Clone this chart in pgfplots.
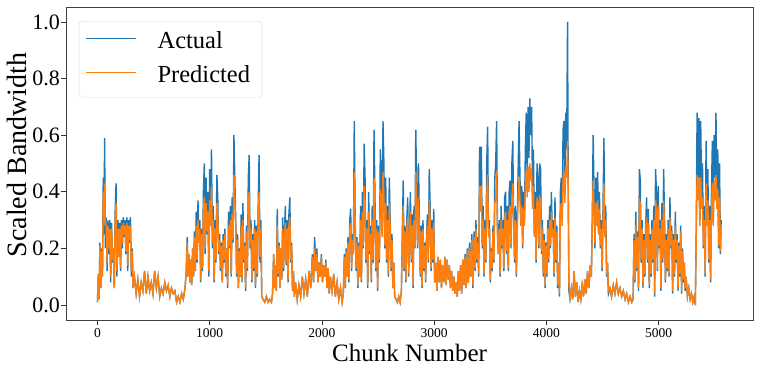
\documentclass[border=0pt]{standalone}
\usepackage{fontspec}
\setmainfont{Liberation Serif}
\usepackage{pgfplots}
\usepackage{pgfplotstable}
\pgfplotsset{compat=1.18}
\definecolor{mplblue}{HTML}{1F77B4}
\definecolor{mplorange}{HTML}{FF7F0E}
\pgfplotstableread{
x a p
0 0.01 0.01
8 0.11 0.11
15 0.02 0.02
22 0.22 0.21
30 0.06 0.06
38 0.20 0.19
45 0.10 0.10
52 0.45 0.40
58 0.25 0.28
64 0.59 0.43
70 0.20 0.30
78 0.31 0.28
86 0.12 0.15
94 0.30 0.28
102 0.18 0.20
110 0.30 0.27
118 0.08 0.10
126 0.29 0.27
134 0.15 0.16
142 0.20 0.20
150 0.06 0.06
158 0.33 0.30
166 0.43 0.36
174 0.10 0.12
182 0.30 0.27
190 0.17 0.17
198 0.29 0.27
206 0.12 0.13
214 0.30 0.28
222 0.20 0.22
230 0.31 0.29
238 0.24 0.25
246 0.30 0.28
254 0.18 0.19
262 0.31 0.29
270 0.12 0.14
278 0.30 0.28
286 0.22 0.23
294 0.31 0.28
302 0.10 0.12
310 0.20 0.19
318 0.06 0.06
330 0.10 0.10
345 0.04 0.04
360 0.09 0.09
375 0.03 0.03
390 0.08 0.08
405 0.05 0.05
420 0.12 0.12
435 0.04 0.04
450 0.10 0.10
465 0.05 0.05
480 0.08 0.08
495 0.04 0.04
510 0.12 0.12
525 0.06 0.06
540 0.10 0.10
555 0.03 0.03
570 0.06 0.06
585 0.04 0.04
600 0.08 0.08
615 0.05 0.05
630 0.07 0.07
645 0.03 0.03
660 0.06 0.06
675 0.04 0.04
690 0.05 0.05
705 0.01 0.01
720 0.03 0.03
735 0.01 0.01
750 0.04 0.04
765 0.02 0.02
780 0.06 0.06
790 0.11 0.11
800 0.24 0.22
808 0.10 0.10
816 0.18 0.18
824 0.08 0.08
832 0.16 0.16
840 0.07 0.07
848 0.20 0.20
856 0.10 0.10
864 0.26 0.24
872 0.12 0.12
880 0.33 0.28
888 0.15 0.16
896 0.37 0.30
904 0.22 0.22
912 0.30 0.27
920 0.08 0.09
928 0.27 0.25
936 0.12 0.13
944 0.40 0.33
952 0.50 0.38
960 0.18 0.20
968 0.45 0.36
976 0.25 0.26
984 0.40 0.33
992 0.10 0.12
1000 0.48 0.37
1008 0.30 0.28
1016 0.55 0.42
1024 0.20 0.22
1032 0.35 0.30
1040 0.08 0.09
1048 0.30 0.27
1056 0.15 0.16
1064 0.46 0.36
1072 0.38 0.32
1080 0.18 0.19
1088 0.25 0.23
1096 0.12 0.13
1104 0.22 0.21
1112 0.08 0.08
1120 0.25 0.23
1128 0.15 0.16
1136 0.27 0.25
1144 0.10 0.11
1152 0.20 0.20
1160 0.06 0.07
1168 0.33 0.28
1176 0.20 0.21
1184 0.35 0.30
1192 0.10 0.11
1200 0.38 0.32
1208 0.22 0.23
1216 0.60 0.46
1224 0.45 0.38
1232 0.30 0.28
1240 0.10 0.11
1248 0.25 0.23
1256 0.06 0.06
1264 0.20 0.19
1272 0.10 0.10
1280 0.32 0.28
1288 0.08 0.09
1296 0.36 0.30
1304 0.15 0.16
1312 0.22 0.21
1320 0.05 0.06
1328 0.28 0.26
1336 0.12 0.13
1344 0.45 0.36
1352 0.53 0.40
1360 0.20 0.22
1368 0.30 0.27
1376 0.08 0.09
1384 0.25 0.23
1392 0.12 0.13
1400 0.30 0.27
1408 0.06 0.07
1416 0.28 0.26
1424 0.10 0.11
1432 0.35 0.30
1440 0.53 0.40
1448 0.15 0.17
1456 0.30 0.27
1464 0.03 0.03
1475 0.02 0.02
1490 0.01 0.01
1505 0.03 0.03
1520 0.01 0.01
1535 0.02 0.02
1550 0.01 0.01
1560 0.04 0.04
1570 0.18 0.18
1578 0.06 0.06
1586 0.14 0.14
1594 0.05 0.05
1602 0.34 0.28
1610 0.10 0.11
1618 0.22 0.21
1626 0.06 0.06
1634 0.20 0.20
1642 0.09 0.09
1650 0.31 0.27
1658 0.12 0.13
1666 0.26 0.24
1674 0.35 0.29
1682 0.14 0.15
1690 0.30 0.27
1698 0.08 0.09
1706 0.32 0.28
1714 0.38 0.31
1722 0.15 0.16
1730 0.22 0.21
1738 0.05 0.05
1746 0.12 0.12
1754 0.03 0.03
1765 0.08 0.08
1780 0.02 0.02
1795 0.07 0.07
1810 0.03 0.03
1825 0.10 0.10
1840 0.04 0.04
1855 0.09 0.09
1870 0.03 0.03
1885 0.12 0.12
1900 0.06 0.06
1915 0.18 0.17
1925 0.08 0.08
1935 0.24 0.20
1945 0.12 0.12
1955 0.20 0.18
1965 0.08 0.08
1975 0.15 0.15
1985 0.10 0.10
1995 0.18 0.17
2005 0.08 0.08
2015 0.14 0.14
2025 0.10 0.10
2035 0.16 0.15
2045 0.06 0.06
2055 0.13 0.13
2065 0.04 0.04
2075 0.10 0.10
2090 0.05 0.05
2105 0.11 0.11
2120 0.03 0.03
2135 0.08 0.08
2150 0.02 0.02
2165 0.06 0.06
2180 0.01 0.01
2190 0.04 0.04
2200 0.18 0.17
2208 0.06 0.06
2216 0.20 0.19
2224 0.10 0.10
2232 0.24 0.22
2240 0.08 0.09
2248 0.30 0.27
2256 0.34 0.29
2264 0.12 0.13
2272 0.25 0.23
2280 0.18 0.18
2288 0.65 0.47
2296 0.30 0.29
2304 0.12 0.13
2312 0.24 0.22
2320 0.06 0.07
2328 0.22 0.21
2336 0.10 0.10
2344 0.35 0.30
2352 0.08 0.09
2360 0.40 0.33
2368 0.20 0.21
2376 0.57 0.42
2384 0.45 0.37
2392 0.15 0.16
2400 0.30 0.27
2408 0.06 0.07
2416 0.40 0.33
2424 0.18 0.19
2432 0.28 0.25
2440 0.08 0.09
2448 0.35 0.30
2456 0.15 0.16
2464 0.62 0.45
2472 0.40 0.33
2480 0.12 0.13
2488 0.30 0.27
2496 0.05 0.06
2504 0.28 0.26
2512 0.15 0.16
2520 0.55 0.41
2528 0.48 0.38
2536 0.25 0.24
2544 0.65 0.47
2552 0.50 0.38
2560 0.20 0.21
2568 0.45 0.36
2576 0.15 0.16
2584 0.35 0.30
2592 0.10 0.11
2600 0.45 0.36
2608 0.30 0.27
2616 0.12 0.13
2624 0.25 0.23
2632 0.06 0.06
2640 0.15 0.15
2648 0.03 0.03
2660 0.02 0.02
2672 0.01 0.01
2684 0.03 0.03
2696 0.01 0.01
2708 0.05 0.05
2716 0.25 0.23
2724 0.44 0.35
2732 0.12 0.13
2740 0.28 0.26
2748 0.08 0.09
2756 0.30 0.27
2764 0.38 0.31
2772 0.10 0.11
2780 0.25 0.23
2788 0.40 0.33
2796 0.15 0.16
2804 0.32 0.28
2812 0.06 0.07
2820 0.35 0.30
2828 0.20 0.21
2836 0.62 0.47
2844 0.40 0.33
2852 0.20 0.21
2860 0.50 0.38
2868 0.30 0.27
2876 0.10 0.11
2884 0.28 0.26
2892 0.06 0.07
2900 0.30 0.27
2908 0.12 0.13
2916 0.22 0.21
2924 0.08 0.09
2932 0.25 0.23
2940 0.32 0.28
2948 0.15 0.16
2956 0.48 0.37
2964 0.35 0.30
2972 0.12 0.13
2980 0.30 0.27
2988 0.15 0.16
2996 0.34 0.29
3004 0.08 0.08
3015 0.15 0.15
3025 0.05 0.05
3035 0.17 0.17
3045 0.08 0.08
3055 0.16 0.16
3065 0.06 0.06
3075 0.14 0.14
3085 0.08 0.08
3095 0.17 0.17
3105 0.07 0.07
3115 0.16 0.16
3125 0.09 0.09
3135 0.14 0.14
3145 0.06 0.06
3155 0.12 0.12
3165 0.05 0.05
3175 0.10 0.10
3185 0.04 0.04
3195 0.08 0.08
3205 0.03 0.03
3215 0.12 0.12
3225 0.05 0.05
3235 0.14 0.14
3245 0.04 0.04
3255 0.16 0.16
3265 0.07 0.07
3275 0.18 0.17
3285 0.06 0.06
3295 0.20 0.19
3305 0.08 0.08
3315 0.22 0.20
3325 0.10 0.10
3335 0.25 0.23
3345 0.06 0.07
3355 0.26 0.24
3364 0.12 0.13
3372 0.30 0.27
3380 0.15 0.16
3388 0.24 0.22
3396 0.10 0.11
3404 0.56 0.42
3412 0.40 0.33
3420 0.56 0.42
3428 0.20 0.21
3436 0.35 0.30
3444 0.10 0.11
3452 0.30 0.27
3460 0.15 0.16
3468 0.50 0.38
3476 0.63 0.46
3484 0.25 0.24
3492 0.30 0.27
3500 0.08 0.09
3508 0.20 0.19
3516 0.12 0.13
3524 0.28 0.26
3532 0.15 0.16
3540 0.45 0.36
3548 0.50 0.38
3556 0.65 0.47
3564 0.25 0.24
3572 0.18 0.18
3580 0.30 0.27
3588 0.10 0.11
3596 0.35 0.30
3604 0.20 0.21
3612 0.30 0.27
3620 0.12 0.13
3628 0.38 0.31
3636 0.40 0.33
3644 0.18 0.19
3652 0.35 0.30
3660 0.12 0.13
3668 0.40 0.33
3676 0.44 0.35
3684 0.20 0.21
3692 0.50 0.38
3700 0.58 0.43
3708 0.30 0.28
3716 0.15 0.16
3724 0.35 0.30
3732 0.10 0.11
3740 0.30 0.27
3748 0.48 0.38
3756 0.65 0.45
3764 0.45 0.37
3772 0.30 0.28
3780 0.42 0.35
3788 0.20 0.21
3796 0.40 0.34
3804 0.30 0.28
3812 0.55 0.42
3820 0.68 0.48
3828 0.45 0.38
3836 0.70 0.49
3844 0.52 0.40
3852 0.73 0.50
3860 0.60 0.44
3868 0.70 0.48
3876 0.40 0.34
3884 0.55 0.42
3892 0.25 0.24
3900 0.40 0.34
3908 0.15 0.16
3916 0.50 0.38
3924 0.45 0.36
3932 0.20 0.21
3940 0.50 0.38
3948 0.48 0.37
3956 0.18 0.19
3964 0.30 0.27
3972 0.10 0.11
3980 0.25 0.23
3988 0.06 0.07
3996 0.22 0.21
4004 0.10 0.11
4012 0.30 0.27
4020 0.15 0.16
4028 0.35 0.30
4036 0.20 0.21
4044 0.40 0.33
4052 0.25 0.24
4060 0.30 0.27
4068 0.10 0.11
4076 0.38 0.31
4084 0.15 0.16
4092 0.28 0.26
4100 0.06 0.07
4108 0.15 0.15
4116 0.03 0.04
4124 0.40 0.33
4132 0.45 0.36
4140 0.30 0.28
4148 0.62 0.45
4156 0.65 0.47
4164 0.40 0.36
4172 0.68 0.49
4180 0.55 0.45
4188 1.00 0.58
4194 0.40 0.40
4200 0.05 0.08
4210 0.02 0.02
4222 0.06 0.06
4234 0.02 0.02
4246 0.12 0.12
4258 0.03 0.03
4270 0.08 0.08
4282 0.01 0.01
4294 0.05 0.05
4306 0.02 0.02
4318 0.07 0.07
4330 0.03 0.03
4342 0.09 0.09
4354 0.04 0.04
4366 0.12 0.12
4378 0.06 0.06
4390 0.14 0.14
4400 0.10 0.10
4408 0.30 0.27
4416 0.60 0.44
4424 0.40 0.34
4432 0.20 0.22
4440 0.45 0.36
4448 0.30 0.28
4456 0.47 0.37
4464 0.25 0.25
4472 0.40 0.34
4480 0.20 0.21
4488 0.30 0.27
4496 0.12 0.13
4504 0.35 0.30
4512 0.59 0.43
4520 0.25 0.24
4528 0.35 0.30
4536 0.10 0.11
4544 0.15 0.15
4552 0.04 0.05
4565 0.06 0.06
4580 0.03 0.03
4595 0.07 0.07
4610 0.04 0.04
4625 0.08 0.08
4640 0.04 0.04
4655 0.06 0.06
4670 0.03 0.03
4685 0.05 0.05
4700 0.02 0.02
4715 0.04 0.04
4730 0.01 0.01
4745 0.03 0.03
4760 0.01 0.01
4772 0.02 0.02
4780 0.25 0.23
4788 0.08 0.09
4796 0.33 0.28
4804 0.12 0.13
4812 0.26 0.24
4820 0.05 0.06
4828 0.48 0.37
4836 0.44 0.36
4844 0.15 0.16
4852 0.30 0.27
4860 0.06 0.07
4868 0.25 0.23
4876 0.10 0.11
4884 0.28 0.26
4892 0.38 0.31
4900 0.15 0.16
4908 0.34 0.29
4916 0.06 0.07
4924 0.25 0.23
4932 0.10 0.11
4940 0.30 0.27
4948 0.15 0.16
4956 0.35 0.30
4964 0.03 0.04
4972 0.48 0.37
4980 0.40 0.33
4988 0.12 0.13
4996 0.42 0.35
5004 0.20 0.21
5012 0.30 0.27
5020 0.05 0.06
5028 0.36 0.30
5036 0.15 0.16
5044 0.48 0.37
5052 0.30 0.27
5060 0.08 0.09
5068 0.25 0.23
5076 0.12 0.13
5084 0.30 0.27
5092 0.10 0.11
5100 0.38 0.31
5108 0.20 0.21
5116 0.28 0.26
5124 0.04 0.05
5132 0.25 0.23
5140 0.10 0.11
5148 0.33 0.28
5156 0.15 0.16
5164 0.25 0.23
5172 0.05 0.06
5180 0.22 0.21
5188 0.10 0.11
5196 0.28 0.26
5204 0.04 0.05
5212 0.20 0.19
5220 0.08 0.09
5228 0.15 0.15
5236 0.05 0.06
5244 0.10 0.10
5256 0.03 0.03
5268 0.06 0.06
5280 0.02 0.02
5292 0.04 0.04
5304 0.01 0.01
5316 0.03 0.03
5326 0.00 0.00
5334 0.25 0.23
5342 0.68 0.46
5350 0.45 0.37
5358 0.66 0.45
5366 0.30 0.28
5374 0.65 0.45
5382 0.40 0.34
5390 0.50 0.38
5398 0.20 0.21
5406 0.35 0.30
5414 0.10 0.11
5422 0.58 0.43
5430 0.30 0.28
5438 0.48 0.37
5446 0.15 0.16
5454 0.35 0.30
5462 0.08 0.09
5470 0.40 0.33
5478 0.58 0.43
5486 0.30 0.28
5494 0.60 0.44
5502 0.45 0.37
5510 0.68 0.46
5518 0.40 0.34
5526 0.55 0.41
5534 0.20 0.21
5542 0.50 0.38
5550 0.18 0.19
5556 0.30 0.27
}\datatable
\begin{document}
\begin{tikzpicture}
\useasboundingbox (-66bp,-47bp) rectangle (694bp,320bp);
\begin{axis}[
  at={(0,0)}, anchor=south west,
  scale only axis, width=687bp, height=313bp,
  xmin=-280, xmax=5840, ymin=-0.053, ymax=1.053,
  xtick={0,1000,2000,3000,4000,5000},
  ytick={0,0.2,0.4,0.6,0.8,1},
  xtick pos=bottom, ytick pos=left,
  tick align=outside, major tick length=5bp,
  tick style={black!80, line width=0.6bp},
  axis line style={black!75, line width=0.7bp},
  /pgf/number format/assume math mode=true,
  xticklabel style={font=\fontsize{13.5bp}{14bp}\selectfont, /pgf/number format/1000 sep={}},
  yticklabel style={font=\fontsize{22bp}{22bp}\selectfont, inner xsep=1bp, /pgf/number format/fixed, /pgf/number format/precision=1, /pgf/number format/fixed zerofill},
  xlabel={Chunk Number}, ylabel={Scaled Bandwidth},
  every axis x label/.style={at={(axis description cs:0.5,-0.131)}, anchor=base, font=\fontsize{25bp}{25bp}\selectfont},
  every axis y label/.style={at={(axis description cs:-0.0575,0.527)}, rotate=90, anchor=base, font=\fontsize{28bp}{28bp}\selectfont},
  legend style={at={(axis description cs:0.0189,0.955)}, anchor=north west,
    draw=black!15, rounded corners=3bp, fill=white, fill opacity=0.8, text opacity=1,
    font=\fontsize{24.5bp}{25bp}\selectfont,
    inner xsep=6bp, inner ysep=8bp, row sep=8bp,
    nodes={text height=17bp, text depth=5bp, inner sep=2bp},
    cells={anchor=west},
    /tikz/every even column/.append style={column sep=0bp}},
  legend image code/.code={\draw[#1, line width=1.4bp] (0bp,4bp) -- (50bp,4bp);},
]
\addplot[mplblue, line width=1.4bp] table[x=x, y=a] {\datatable};
\addplot[mplorange, line width=1.4bp] table[x=x, y=p] {\datatable};
\legend{\hspace*{19bp}Actual, \hspace*{19bp}Predicted\hspace*{4bp}}
\end{axis}
\end{tikzpicture}
\end{document}
